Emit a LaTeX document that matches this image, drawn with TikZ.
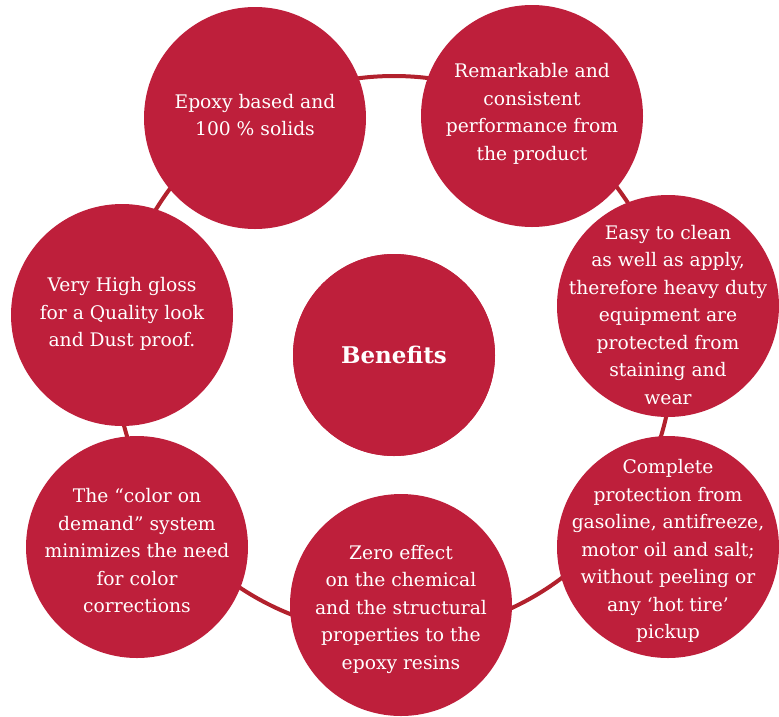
\documentclass[tikz,border=0pt]{standalone}
\usepackage{fontspec}
\setmainfont{DejaVu Serif}
\definecolor{benred}{RGB}{190,31,59}
\definecolor{ringred}{RGB}{178,33,45}
\tikzset{
  bubble/.style={circle, fill=benred, minimum size=222pt, inner sep=0pt},
  bubtext/.style={text=white, align=center, inner sep=0pt, font=\fontsize{18.7}{27.5}\selectfont},
  ring/.style={draw=ringred, line width=4pt}
}
\begin{document}
\begin{tikzpicture}[x=1pt,y=-1pt]
\useasboundingbox (0,0) rectangle (779,716);
% centre and the ring
\node[bubble, minimum size=202pt] (ben) at (394,355) {};
\draw[ring] (ben.center) circle (279pt);
\node[bubble, minimum size=202pt] (benc) at (ben) {};
\node[bubtext, font=\fontsize{23}{30}\selectfont\bfseries] (bent) at (ben) {Benefits};
% outer circles
\node[bubble] (epoxy) at (255,118) {};
\node[bubble] (remark) at (532,116) {};
\node[bubble] (easy) at (668,306) {};
\node[bubble] (compl) at (668,547) {};
\node[bubble] (zero) at (401,605) {};
\node[bubble] (color) at (137,547) {};
\node[bubble] (gloss) at (122,315) {};
% texts
\node[bubtext] (epoxyt) at ([yshift=3pt]epoxy) {Epoxy based and\\100 \% solids};
\node[bubtext] (remarkt) at ([yshift=2pt]remark) {Remarkable and\\consistent\\performance from\\the product};
\node[bubtext] (easyt) at ([yshift=-9pt]easy) {Easy to clean\\as well as apply,\\therefore heavy duty\\equipment are\\protected from\\staining and\\wear};
\node[bubtext] (complt) at ([yshift=-4pt]compl) {Complete\\protection from\\gasoline, antifreeze,\\motor oil and salt;\\without peeling or\\any ‘hot tire’\\pickup};
\node[bubtext] (zerot) at ([yshift=-4pt]zero) {Zero effect\\on the chemical\\and the structural\\properties to the\\epoxy resins};
\node[bubtext] (colort) at ([yshift=-4pt]color) {The “color on\\demand” system\\minimizes the need\\for color\\corrections};
\node[bubtext] (glosst) at ([yshift=1pt]gloss) {Very High gloss\\for a Quality look\\and Dust proof.};
\end{tikzpicture}
\end{document}
